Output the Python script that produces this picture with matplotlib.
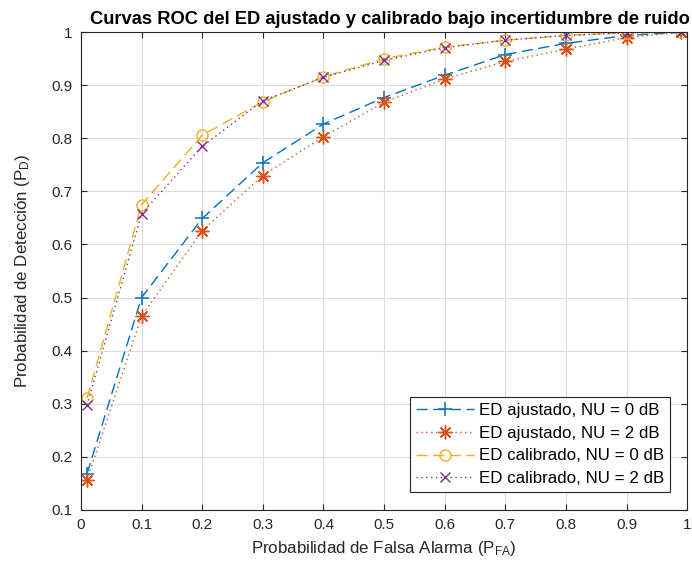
import numpy as np
import matplotlib.pyplot as plt

plt.rcParams['font.family'] = ['Liberation Sans', 'DejaVu Sans']
plt.rcParams['mathtext.default'] = 'regular'

# P_FA points used for every curve
pfa = [0.01, 0.1, 0.2, 0.3, 0.4, 0.5, 0.6, 0.7, 0.8, 0.9, 0.99]

# P_D
pd_ajust_0 = [0.168, 0.500, 0.649, 0.754, 0.827, 0.877, 0.919, 0.958, 0.979, 0.994, 1.0]
pd_ajust_2 = [0.156, 0.465, 0.626, 0.730, 0.803, 0.868, 0.912, 0.945, 0.968, 0.990, 1.0]
pd_calib_0 = [0.310, 0.675, 0.806, 0.869, 0.916, 0.950, 0.972, 0.985, 0.994, 0.999, 1.0]
pd_calib_2 = [0.297, 0.658, 0.785, 0.871, 0.915, 0.947, 0.971, 0.985, 0.994, 0.999, 1.0]

labels = ['ED ajustado, NU = 0 dB', 'ED ajustado, NU = 2 dB',
          'ED calibrado, NU = 0 dB', 'ED calibrado, NU = 2 dB']

asterisk = (8, 2, 0)  # MATLAB-style '*' (plus + cross)

fig = plt.figure(figsize=(6.92, 5.76), dpi=100)
ax = fig.add_axes([0.117, 0.115, 0.876, 0.829])

ax.plot(pfa, pd_ajust_0, color='#0072BD', linestyle=(0, (8, 4)), linewidth=1.0,
        marker='+', markersize=10, markeredgewidth=1.1, label=labels[0])
ax.plot(pfa, pd_ajust_2, color='#D95319', linestyle=(0, (1, 2.5)), linewidth=1.0,
        marker=asterisk, markersize=10, markeredgewidth=1.0, label=labels[1])
ax.plot(pfa, pd_calib_0, color='#EDB120', linestyle=(0, (8, 4)), linewidth=1.0,
        marker='o', markersize=8, markerfacecolor='none', markeredgewidth=1.0, label=labels[2])
ax.plot(pfa, pd_calib_2, color='#7E2F8E', linestyle=(0, (1, 2.5)), linewidth=1.0,
        marker='x', markersize=6.5, markeredgewidth=1.0, label=labels[3])

ax.set_xlim(0, 1)
ax.set_ylim(0.1, 1)
xt = np.round(np.arange(0, 1.01, 0.1), 1)
yt = np.round(np.arange(0.1, 1.01, 0.1), 1)
ax.set_xticks(xt)
ax.set_yticks(yt)
ax.set_xticklabels([f'{v:g}' for v in xt])
ax.set_yticklabels([f'{v:g}' for v in yt])

ax.grid(True, color='#dcdcdc', linewidth=0.8)
ax.set_axisbelow(True)
ax.tick_params(direction='in', length=4, colors='#262626', labelsize=11, top=True, right=True,
               pad=6)
for s in ax.spines.values():
    s.set_color('#262626')
    s.set_linewidth(0.8)

ax.set_xlabel('Probabilidad de Falsa Alarma (P$_{FA}$)', fontsize=12.2, color='#262626',
              labelpad=5)
ax.set_ylabel('Probabilidad de Detección (P$_{D}$)', fontsize=12.2, color='#262626',
              labelpad=14)
ax.set_title('Curvas ROC del ED ajustado y calibrado bajo incertidumbre de ruido',
             fontsize=13.2, fontweight='bold', pad=6, x=0.51)

leg = ax.legend(loc='lower right', bbox_to_anchor=(0.977, 0.03), fontsize=12.2, fancybox=False,
                framealpha=1, edgecolor='#262626', handlelength=3.4, borderpad=0.35,
                labelspacing=0.45, handletextpad=0.3, borderaxespad=0.2)
leg.get_frame().set_linewidth(0.8)

fig.savefig('out.png', dpi=100)
